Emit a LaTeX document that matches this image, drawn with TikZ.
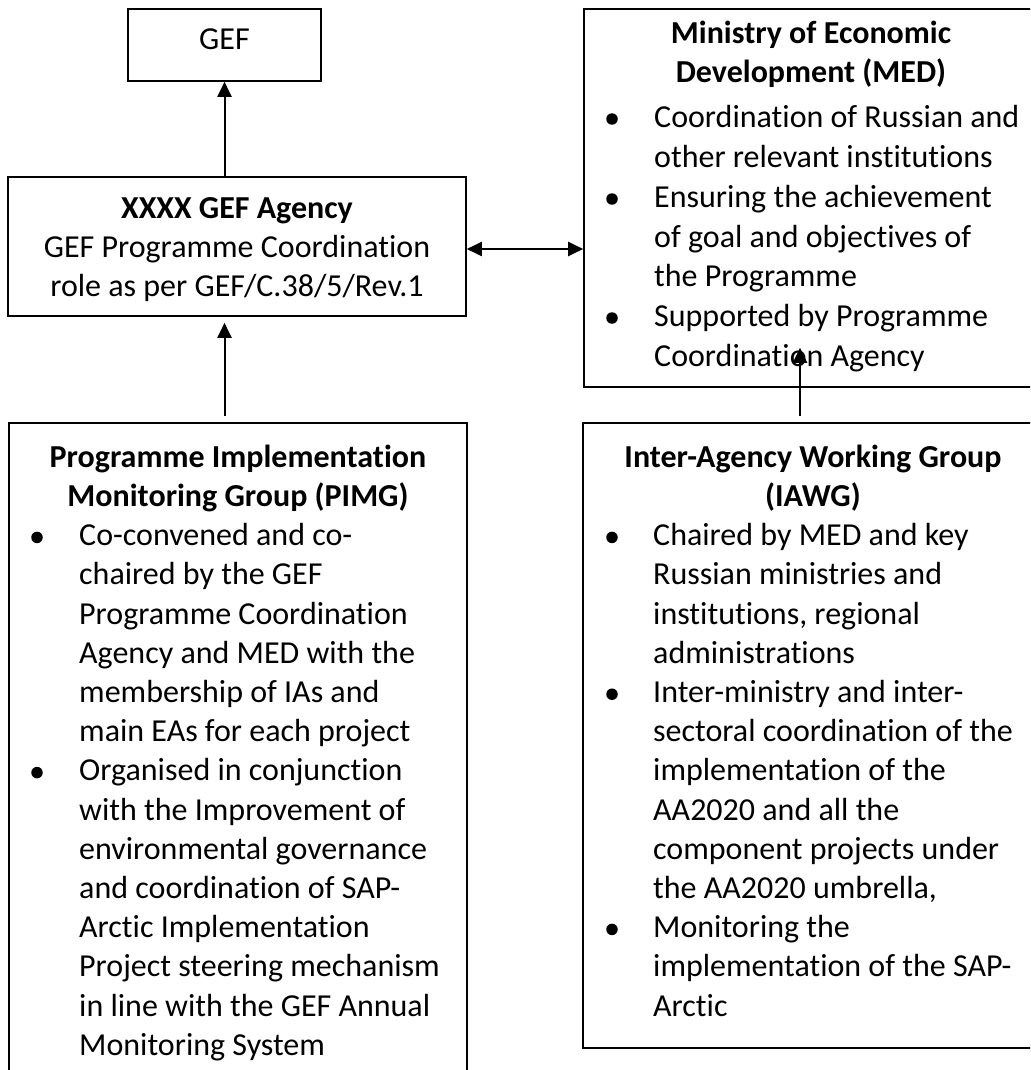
\documentclass[tikz,border=0pt]{standalone}
\usepackage{fontspec}
\setmainfont{Carlito}[Ligatures={TeX,NoCommon}]
\usetikzlibrary{arrows.meta,calc}
\newcommand\fl{\rule{0pt}{28pt}}
\begin{document}
\begin{tikzpicture}[x=1pt,y=-1pt,
  boxn/.style={draw, line width=1.6pt, inner sep=0},
  tx/.style={inner sep=0, font=\fontsize{32}{39.2}\selectfont},
  txm/.style={inner sep=0, font=\fontsize{32}{39.8}\selectfont},
  tb/.style={inner sep=0, font=\fontsize{32}{39.5}\selectfont\bfseries},
  bul/.style={circle, fill, inner sep=0, minimum size=11.5pt},
  arr/.style={line width=2pt, -{Triangle[length=15pt,width=14pt]}},
  arrd/.style={line width=2pt, {Triangle[length=15pt,width=14pt]}-{Triangle[length=15pt,width=14pt]}}]
\useasboundingbox (0,0) rectangle (1030,1070);
\clip (0,0) rectangle (1030,1070);
\fill[white] (0,0) rectangle (1030,1070);
% boxes
\node[boxn, minimum width=193pt, minimum height=72pt] (gef) at (224.5,45) {};
\node[boxn, minimum width=458pt, minimum height=139pt] (agency) at (237,246.5) {};
\node[boxn, minimum width=456pt, minimum height=378pt] (med) at (812,198) {};
\node[boxn, minimum width=458pt, minimum height=662pt] (pimg) at (238,754) {};
\node[boxn, minimum width=460pt, minimum height=625pt] (iawg) at (813,735.5) {};
% GEF
\node[tx, anchor=base] (gefT) at (224.5,50) {GEF};
% Agency
\node[tx, anchor=north, align=center] (agT) at (237,190)
  {\fl\textbf{XXXX GEF Agency}\\GEF Programme Coordination\\role as per GEF/C.38/5/Rev.1};
% MED
\node[tb, anchor=north, align=center] (medT) at (811,15) {\fl Ministry of Economic\\Development (MED)};
\node[txm, anchor=north west, align=left] (m1) at (654,99) {\fl Coordination of Russian and\\other relevant institutions};
\node[txm, anchor=north west, align=left] (m2) at (654,179) {\fl Ensuring the achievement\\of goal and objectives of\\the Programme};
\node[txm, anchor=north west, align=left] (m3) at (654,298) {\fl Supported by Programme\\Coordination Agency};
\node[bul] (mb1) at (612,119) {};
\node[bul] (mb2) at (612,199) {};
\node[bul] (mb3) at (612,318) {};
% PIMG
\node[tb, anchor=north, align=center] (pT) at (238,439) {\fl Programme Implementation\\Monitoring Group (PIMG)};
\node[tx, anchor=north west, align=left] (p1) at (79,517.4) {\fl Co-convened and co-\\chaired by the GEF\\Programme Coordination\\Agency and MED with the\\membership of IAs and\\main EAs for each project};
\node[tx, anchor=north west, align=left] (p2) at (79,752.6) {\fl Organised in conjunction\\with the Improvement of\\environmental governance\\and coordination of SAP-\\Arctic Implementation\\Project steering mechanism\\in line with the GEF Annual\\Monitoring System};
\node[bul] (pb1) at (37,537.4) {};
\node[bul] (pb2) at (37,772.6) {};
% IAWG
\node[tb, anchor=north, align=center] (iT) at (813,439) {\fl Inter-Agency Working Group\\(IAWG)};
\node[tx, anchor=north west, align=left] (i1) at (653,517.4) {\fl Chaired by MED and key\\Russian ministries and\\institutions, regional\\administrations};
\node[tx, anchor=north west, align=left] (i2) at (653,674.2) {\fl Inter-ministry and inter-\\sectoral coordination of the\\implementation of the\\AA2020 and all the\\component projects under\\the AA2020 umbrella,};
\node[tx, anchor=north west, align=left] (i3) at (653,909.4) {\fl Monitoring the\\implementation of the SAP-\\Arctic};
\node[bul] (ib1) at (612,537.4) {};
\node[bul] (ib2) at (612,694.2) {};
\node[bul] (ib3) at (612,929.4) {};
% connectors
\draw[arr] (agency.north -| gef.south) -- (gef.south);
\coordinate (pa) at ([yshift=6pt]pimg.north);
\coordinate (ab) at ([yshift=-6pt]agency.south);
\draw[arr] (pa -| gef.south) -- (ab -| gef.south);
\coordinate (ae) at ([yshift=-2.5pt]agency.east);
\draw[arrd] (ae) -- (ae -| med.west);
\coordinate (ix) at (800,0);
\coordinate (ia) at ([yshift=6pt]iawg.north);
\coordinate (mt) at ([yshift=40pt]med.south);
\draw[arr] (ia -| ix) -- (mt -| ix);
\end{tikzpicture}
\end{document}
